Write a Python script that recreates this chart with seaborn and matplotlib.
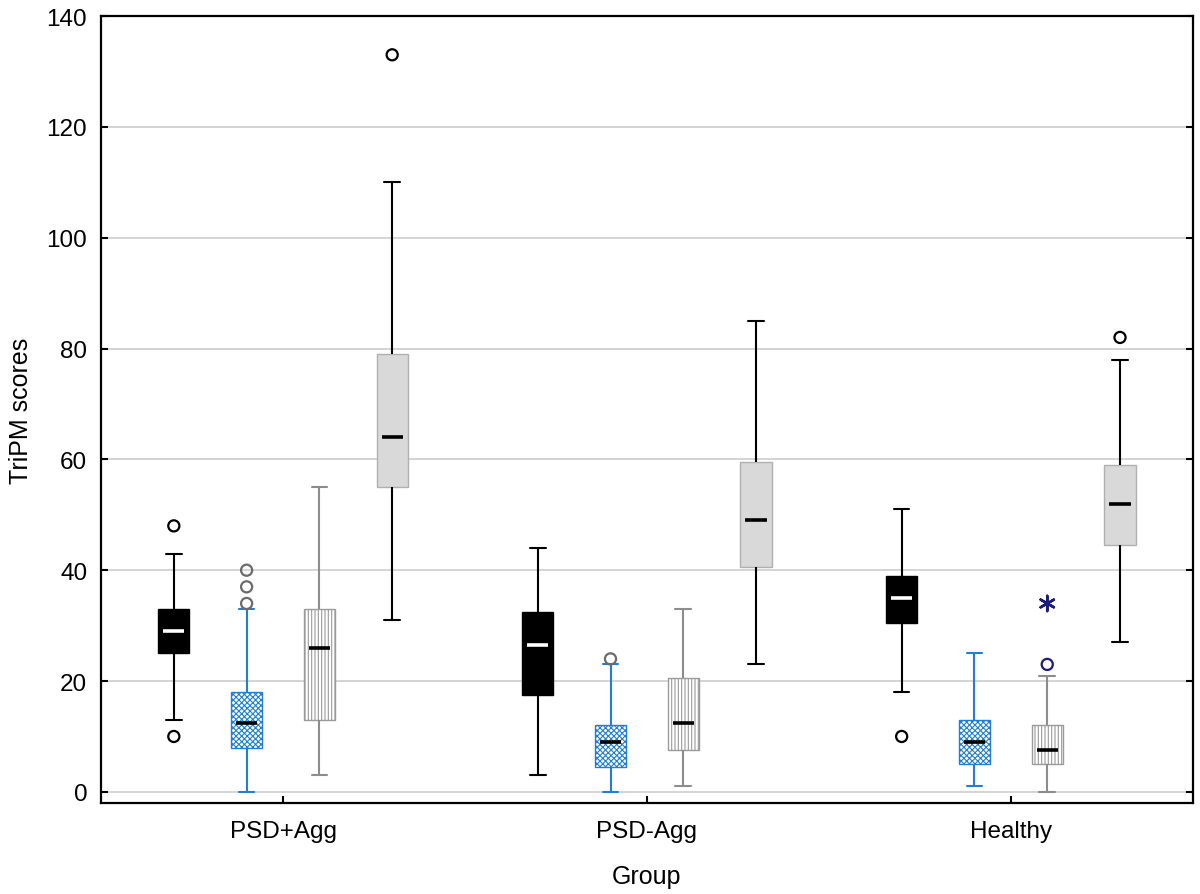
import pandas as pd
import matplotlib
matplotlib.use("Agg")
import matplotlib.pyplot as plt
import seaborn as sns

groups = ["PSD+Agg", "PSD-Agg", "Healthy"]
series = ["Boldness", "Meanness", "Disinhibition", "Total"]

# five-number summaries, one value per group
low = {
    "Boldness": [13, 3, 18],
    "Meanness": [0, 0, 1],
    "Disinhibition": [3, 1, 0],
    "Total": [31, 23, 27],
}
q1 = {
    "Boldness": [25, 17.5, 30.5],
    "Meanness": [8, 4.5, 5],
    "Disinhibition": [13, 7.5, 5],
    "Total": [55, 40.5, 44.5],
}
median = {
    "Boldness": [29, 26.5, 35],
    "Meanness": [12.5, 9, 9],
    "Disinhibition": [26, 12.5, 7.5],
    "Total": [64, 49, 52],
}
q3 = {
    "Boldness": [33, 32.5, 39],
    "Meanness": [18, 12, 13],
    "Disinhibition": [33, 20.5, 12],
    "Total": [79, 59.5, 59],
}
high = {
    "Boldness": [43, 44, 51],
    "Meanness": [33, 23, 25],
    "Disinhibition": [55, 33, 21],
    "Total": [110, 85, 78],
}

# outliers (group, value) and extreme values
outlier_group = ["PSD+Agg", "PSD+Agg", "Healthy",
                 "PSD+Agg", "PSD+Agg", "PSD+Agg", "PSD-Agg",
                 "Healthy",
                 "PSD+Agg", "Healthy"]
outlier_series = ["Boldness", "Boldness", "Boldness",
                  "Meanness", "Meanness", "Meanness", "Meanness",
                  "Disinhibition",
                  "Total", "Total"]
outlier_value = [48, 10, 10,
                 34, 37, 40, 24,
                 23,
                 133, 82]
extreme_group = ["Healthy"]
extreme_series = ["Disinhibition"]
extreme_value = [34]

fill_colors = {"Boldness": "black", "Meanness": "white",
               "Disinhibition": "white", "Total": "#d9d9d9"}
line_colors = {"Boldness": "black", "Meanness": "#1f7fd6",
               "Disinhibition": "#8c8c8c", "Total": "black"}
edge_colors = {"Boldness": "black", "Meanness": "#1f7fd6",
               "Disinhibition": "#9a9a9a", "Total": "#b0b0b0"}
median_colors = {"Boldness": "white", "Meanness": "black",
                 "Disinhibition": "black", "Total": "black"}
hatches = {"Boldness": None, "Meanness": "xxxxxx",
           "Disinhibition": "|||||", "Total": None}
outlier_colors = {"Boldness": "black", "Meanness": "#6b6b6b",
                  "Disinhibition": "#1c1c7a", "Total": "black"}


def build_frame():
    rows = []
    for s in series:
        for i, g in enumerate(groups):
            for stat in (low, q1, median, q3, high):
                rows.append({"group": g, "series": s, "score": stat[s][i]})
    return pd.DataFrame(rows)


def main():
    df = build_frame()
    out_df = pd.DataFrame({"group": outlier_group, "series": outlier_series,
                           "score": outlier_value})
    ext_df = pd.DataFrame({"group": extreme_group, "series": extreme_series,
                           "score": extreme_value})

    sns.set_style("white")
    plt.rcParams["font.family"] = ["Liberation Sans", "DejaVu Sans"]
    plt.rcParams["hatch.linewidth"] = 0.8
    plt.rcParams["text.color"] = "black"
    plt.rcParams["axes.labelcolor"] = "black"
    plt.rcParams["xtick.color"] = "black"
    plt.rcParams["ytick.color"] = "black"

    fig = plt.figure(figsize=(12, 8.95), dpi=100)
    ax = fig.add_axes([0.0842, 0.1017, 0.9098, 0.8793])

    for s in series:
        n_patches = len(ax.patches)
        n_lines = len(ax.lines)
        sns.boxplot(data=df[df["series"] == s], x="group", y="score",
                    hue="series", order=groups, hue_order=series, dodge=True,
                    palette=fill_colors, saturation=1, linecolor=line_colors[s],
                    width=0.8, gap=0.57, whis=(0, 100), showfliers=False,
                    linewidth=1.5, legend=False, ax=ax,
                    medianprops={"color": median_colors[s], "linewidth": 2.6,
                                 "gid": "median"})
        for patch in ax.patches[n_patches:]:
            if hatches[s]:
                patch.set_hatch(hatches[s])
            patch.set_edgecolor(edge_colors[s])
            patch.set_linewidth(1.0)
            patch.set_zorder(2)
        for line in ax.lines[n_lines:]:
            if line.get_gid() == "median":
                x = line.get_xdata()
                mid = (x[0] + x[1]) / 2
                half = (x[1] - x[0]) / 2 * 0.68
                line.set_xdata([mid - half, mid + half])
                line.set_zorder(3)

    n_coll = len(ax.collections)
    sns.stripplot(data=out_df, x="group", y="score", hue="series",
                  order=groups, hue_order=series, palette=outlier_colors,
                  dodge=True, jitter=False, size=8, linewidth=1.6,
                  marker="o", legend=False, ax=ax)
    sns.stripplot(data=ext_df, x="group", y="score", hue="series",
                  order=groups, hue_order=series, palette=outlier_colors,
                  dodge=True, jitter=False, size=11, linewidth=1.8,
                  marker=(6, 2, 0), legend=False, ax=ax)
    for coll in ax.collections[n_coll:]:
        fc = coll.get_facecolors()
        coll.set_edgecolors(fc)
        coll.set_facecolors("none")
        coll.set_zorder(4)

    ax.set_xlim(-0.5, 2.5)
    ax.set_ylim(-2, 140)
    ax.set_yticks(range(0, 141, 20))
    ax.yaxis.grid(True, color="#d4d4d4", linewidth=1.4)
    ax.xaxis.grid(False)
    ax.set_axisbelow(True)
    for spine in ax.spines.values():
        spine.set_visible(True)
        spine.set_color("black")
        spine.set_linewidth(1.6)
    ax.tick_params(axis="y", direction="in", length=5, width=1.5,
                   left=True, right=True, labelsize=17.5, pad=10)
    ax.tick_params(axis="x", direction="in", length=5, width=1.5,
                   bottom=True, labelsize=17.5, pad=12)
    ax.set_xlabel("Group", fontsize=18, labelpad=16)
    ax.set_ylabel("TriPM scores", fontsize=18, labelpad=10)

    fig.savefig("out.png", dpi=100)


if __name__ == "__main__":
    main()
